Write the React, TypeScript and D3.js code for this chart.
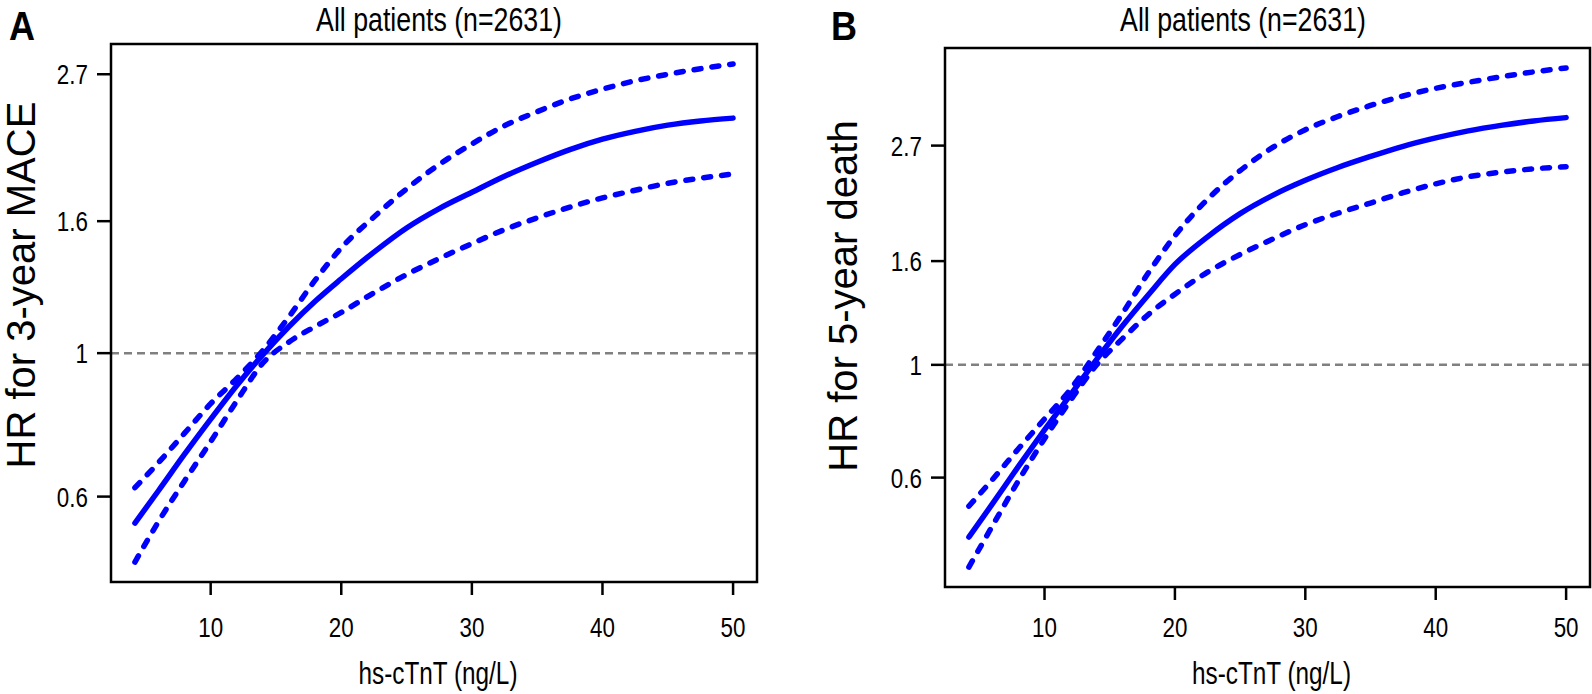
import React from 'react';
import * as d3 from 'd3';

// hs-cTnT values (ng/L) at which the curves were read
const hsCTnT = [4.2, 6, 8, 10, 12, 14, 16, 18, 20, 22.5, 25, 27.5, 30, 32.5, 35, 37.5, 40, 42.5, 45, 47.5, 50];

// Panel A: natural log of HR for 3-year MACE
const maceFit = [-0.605, -0.49, -0.36, -0.235, -0.115, -0.005, 0.095, 0.185, 0.265, 0.36, 0.446, 0.515, 0.573, 0.63, 0.68, 0.725, 0.762, 0.79, 0.812, 0.827, 0.837];
const maceUpper = [-0.479, -0.39, -0.285, -0.18, -0.09, 0.01, 0.13, 0.26, 0.375, 0.485, 0.585, 0.672, 0.745, 0.81, 0.86, 0.905, 0.94, 0.97, 0.993, 1.013, 1.03];
const maceLower = [-0.744, -0.6, -0.455, -0.315, -0.17, -0.035, 0.04, 0.095, 0.145, 0.215, 0.28, 0.337, 0.39, 0.44, 0.482, 0.52, 0.553, 0.58, 0.605, 0.623, 0.638];

// Panel B: natural log of HR for 5-year death
const deathFit = [-0.78, -0.63, -0.46, -0.295, -0.135, 0.025, 0.178, 0.32, 0.455, 0.58, 0.685, 0.768, 0.836, 0.894, 0.944, 0.99, 1.028, 1.06, 1.085, 1.105, 1.12];
const deathUpper = [-0.64, -0.52, -0.38, -0.245, -0.11, 0.06, 0.235, 0.42, 0.585, 0.75, 0.88, 0.985, 1.065, 1.125, 1.175, 1.218, 1.253, 1.28, 1.305, 1.327, 1.345];
const deathLower = [-0.916, -0.73, -0.525, -0.335, -0.16, 0.0, 0.12, 0.23, 0.32, 0.42, 0.5, 0.57, 0.635, 0.687, 0.733, 0.78, 0.82, 0.852, 0.873, 0.888, 0.898];

const yTickHR = [0.6, 1, 1.6, 2.7];
const xTicks = [10, 20, 30, 40, 50];
const panelLetters = ['A', 'B'];
const panelTitles = ['All patients (n=2631)', 'All patients (n=2631)'];
const yAxisTitles = ['HR for 3-year MACE', 'HR for 5-year death'];
const xAxisTitle = 'hs-cTnT (ng/L)';

const W = 1592;
const H = 694;
const FONT = '"Liberation Sans", Arial, Helvetica, sans-serif';
const BLUE = '#0000ff';
const SQ = 0.8; // horizontal condensation of the lettering

type Box = { left: number; top: number; right: number; bottom: number };

function padded(ext: [number, number]): [number, number] {
  const r = ext[1] - ext[0];
  return [ext[0] - 0.04 * r, ext[1] + 0.04 * r];
}

function CText(props: { x: number; y: number; size: number; anchor?: string; dy?: string; sx?: number; children: React.ReactNode; weight?: string }) {
  return (
    <text
      transform={`translate(${props.x},${props.y}) scale(${props.sx ?? SQ},1)`}
      textAnchor={props.anchor ?? 'start'}
      dy={props.dy}
      fontFamily={FONT}
      fontSize={props.size}
      fontWeight={props.weight}
      fill="#000"
    >
      {props.children}
    </text>
  );
}

function Panel(props: {
  box: Box;
  fit: number[];
  upper: number[];
  lower: number[];
  letter: string;
  letterX: number;
  title: string;
  titleX: number;
  yTitle: string;
  yTitleX: number;
  yTitleY: number;
}) {
  const { box, fit, upper, lower } = props;
  const x = d3.scaleLinear().domain(padded(d3.extent(hsCTnT) as [number, number])).range([box.left, box.right]);
  const all = [...fit, ...upper, ...lower];
  const y = d3.scaleLinear().domain(padded(d3.extent(all) as [number, number])).range([box.bottom, box.top]);
  const line = d3
    .line<number>()
    .x((_, i) => x(hsCTnT[i]))
    .y((d) => y(d))
    .curve(d3.curveMonotoneX);
  const cx = (box.left + box.right) / 2;
  const tickLen = 14;
  return (
    <g>
      <CText x={props.letterX} y={40} size={40} weight="bold" sx={0.9}>
        {props.letter}
      </CText>
      <CText x={props.titleX} y={31} size={33} anchor="middle" sx={0.81}>
        {props.title}
      </CText>
      {/* reference line HR = 1 */}
      <line x1={box.left} x2={box.right} y1={y(0)} y2={y(0)} stroke="#808080" strokeWidth={2.5} strokeDasharray="8 5" />
      <path d={line(upper) || ''} fill="none" stroke={BLUE} strokeWidth={5.5} strokeDasharray="7 11" strokeLinecap="round" />
      <path d={line(lower) || ''} fill="none" stroke={BLUE} strokeWidth={5.5} strokeDasharray="7 11" strokeLinecap="round" />
      <path d={line(fit) || ''} fill="none" stroke={BLUE} strokeWidth={5.5} strokeLinecap="round" />
      <rect x={box.left} y={box.top} width={box.right - box.left} height={box.bottom - box.top} fill="none" stroke="#000" strokeWidth={2.5} />
      {yTickHR.map((t) => (
        <g key={t}>
          <line x1={box.left - tickLen} x2={box.left} y1={y(Math.log(t))} y2={y(Math.log(t))} stroke="#000" strokeWidth={2.5} />
          <CText x={box.left - 23} y={y(Math.log(t))} dy="0.36em" anchor="end" size={28}>
            {String(t)}
          </CText>
        </g>
      ))}
      {xTicks.map((t) => (
        <g key={t}>
          <line x1={x(t)} x2={x(t)} y1={box.bottom} y2={box.bottom + 13} stroke="#000" strokeWidth={2.5} />
          <CText x={x(t)} y={637} anchor="middle" size={28}>
            {String(t)}
          </CText>
        </g>
      ))}
      <CText x={cx + 4} y={684} anchor="middle" size={32} sx={0.76}>
        {xAxisTitle}
      </CText>
      <text
        transform={`translate(${props.yTitleX},${props.yTitleY}) rotate(-90)`}
        textAnchor="middle"
        fontFamily={FONT}
        fontSize={40}
        fill="#000"
      >
        {props.yTitle}
      </text>
    </g>
  );
}

export default function App() {
  const boxA: Box = { left: 111, top: 44, right: 757, bottom: 582 };
  const boxB: Box = { left: 945, top: 48, right: 1590, bottom: 587 };
  return (
    <svg width={W} height={H} style={{ position: 'absolute', left: 0, top: 0, background: '#fff' }}>
      <rect width={W} height={H} fill="#fff" />
      <Panel box={boxA} fit={maceFit} upper={maceUpper} lower={maceLower} letter={panelLetters[0]} letterX={9} title={panelTitles[0]} titleX={439} yTitle={yAxisTitles[0]} yTitleX={35} yTitleY={285} />
      <Panel box={boxB} fit={deathFit} upper={deathUpper} lower={deathLower} letter={panelLetters[1]} letterX={831} title={panelTitles[1]} titleX={1243} yTitle={yAxisTitles[1]} yTitleX={857} yTitleY={296} />
    </svg>
  );
}
